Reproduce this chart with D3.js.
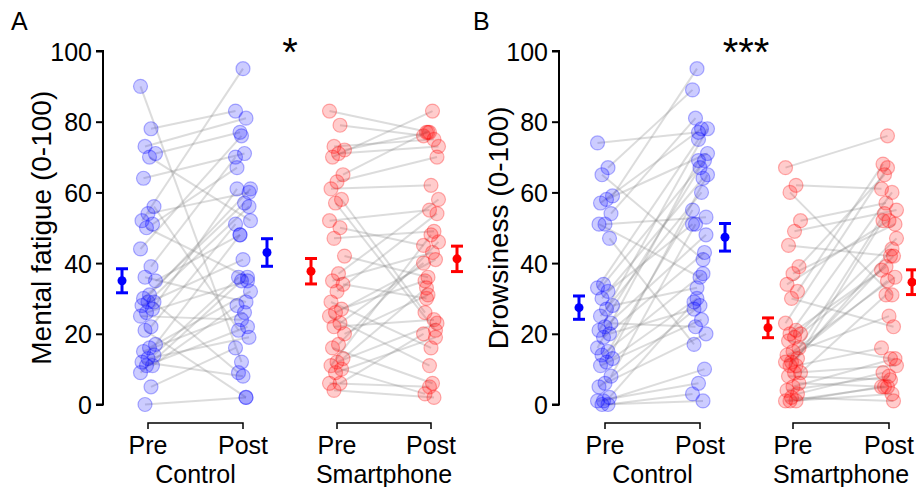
<!DOCTYPE html>
<html>
<head>
<meta charset="utf-8">
<script src="https://cdn.jsdelivr.net/npm/d3@7"></script>
<style>
  body { margin: 0; background: #fff; }
  text { font-family: 'Liberation Sans', Arial, sans-serif; }
</style>
</head>
<body>
<div id="graf"></div>
<script>
// Datos (pares pre/post por sujeto)
fatigaControlPre  = [90, 78, 73, 71, 70, 64, 56, 54, 52, 51, 50, 44, 39, 36, 35, 31, 30, 29, 29, 28, 27, 26, 25, 22, 21, 17, 16, 15, 14, 13, 12, 11, 11, 9, 5, 0]
fatigaControlPost = [12, 83, 81, 77, 52, 71, 21, 60, 95, 67, 36, 76, 70, 29, 48, 61, 57, 9, 56, 41, 61, 35, 24, 51, 2, 48, 32, 26, 36, 19, 8, 28, 22, 35, 16, 2]
fatigaSmartPre    = [83, 79, 73, 72, 71, 70, 65, 63, 61, 58, 57, 52, 50, 47, 42, 37, 35, 34, 32, 29, 27, 26, 25, 23, 22, 20, 17, 16, 13, 12, 11, 10, 9, 6, 6, 4]
fatigaSmartPost   = [77, 76, 75, 77, 73, 83, 77, 70, 62, 26, 21, 55, 45, 49, 36, 58, 43, 30, 54, 16, 35, 41, 11, 40, 24, 31, 46, 6, 33, 23, 48, 3, 19, 5, 20, 2]

suenoControlPre   = [74, 67, 65, 59, 58, 57, 54, 51, 51, 47, 34, 33, 32, 30, 28, 27, 25, 23, 22, 21, 20, 19, 16, 15, 14, 13, 12, 11, 8, 6, 5, 2, 1, 1, 0, 0]
suenoControlPost  = [77, 89, 41, 95, 71, 78, 81, 53, 36, 17, 69, 75, 51, 64, 33, 78, 60, 22, 48, 67, 27, 43, 69, 55, 37, 30, 65, 24, 51, 20, 28, 29, 10, 6, 3, 1]
suenoSmartPre     = [67, 62, 60, 52, 49, 45, 39, 37, 34, 32, 30, 23, 21, 20, 20, 19, 18, 16, 15, 14, 13, 12, 12, 11, 11, 9, 9, 8, 6, 5, 4, 3, 2, 1, 1, 1]
suenoSmartPost    = [76, 61, 31, 57, 55, 42, 65, 51, 52, 68, 22, 67, 38, 60, 39, 47, 13, 54, 36, 25, 52, 42, 35, 16, 44, 31, 11, 7, 5, 13, 8, 9, 1, 5, 5, 3]

// medias y error estándar: [controlPre, controlPost, smartPre, smartPost]
fatigaMedias = [35.0, 43.0, 37.7, 41.2]
fatigaSem    = [3.4, 3.9, 3.6, 3.6]
suenoMedias  = [27.4, 47.3, 21.7, 34.6]
suenoSem     = [3.3, 3.9, 2.8, 3.5]

yTicks      = [0, 20, 40, 60, 80, 100]
momentos    = ['Pre', 'Post']
grupos      = ['Control', 'Smartphone']
etiquetasY  = ['Mental fatigue (0-100)', 'Drowsiness (0-100)']
letras      = ['A', 'B']
estrellas   = ['*', '***']

ancho_total = 916
alto_total  = 487
fuente = 25

svg = d3.select('#graf').append('svg')
        .attr('width', ancho_total)
        .attr('height', alto_total)

y = d3.scaleLinear().domain([0, 100]).range([404.5, 51])

azul = '#0000ff'
rojo = '#ff0000'

paneles = [
  { ejeX: 103, cols: [148, 243, 337, 431], errX: [122, 267, 311, 457], labelX: 51,
    series: [[fatigaControlPre, fatigaControlPost], [fatigaSmartPre, fatigaSmartPost]],
    medias: fatigaMedias, sem: fatigaSem, letraX: 11, estrellaX: 290 },
  { ejeX: 559, cols: [605, 700, 793, 889], errX: [579, 725, 768, 912], labelX: 508,
    series: [[suenoControlPre, suenoControlPost], [suenoSmartPre, suenoSmartPost]],
    medias: suenoMedias, sem: suenoSem, letraX: 473, estrellaX: 746 }
]

// desplazamiento horizontal fijo (jitter determinista)
function jit(i, k) {
  return ((i * 7 + k * 3) % 11 - 5) * 1.5
}

paneles.forEach((p, ip) => {
  g = svg.append('g')

  // eje y
  eje = d3.axisLeft(y).tickValues(yTicks).tickSize(7).tickPadding(4)
  ga = g.append('g')
        .attr('transform', `translate(${p.ejeX}, 0)`)
        .call(eje)
  ga.select('.domain').attr('d', `M-7,${y(100)}H0V${y(0)}H-7`).attr('stroke', '#000').attr('stroke-width', 2)
  ga.selectAll('.tick line').attr('stroke', '#000').attr('stroke-width', 2)
  ga.selectAll('.tick text')
    .attr('font-size', `${fuente}px`)
    .attr('font-family', "'Liberation Sans', Arial, sans-serif")
    .attr('fill', '#000')
    .attr('dy', '0.36em')

  g.append('text')
    .attr('transform', `translate(${p.labelX}, ${(y(0) + y(100)) / 2}) rotate(-90)`)
    .attr('text-anchor', 'middle')
    .attr('font-size', '28px')
    .text(etiquetasY[ip])

  g.append('text')
    .attr('x', p.letraX)
    .attr('y', 30)
    .attr('font-size', `${fuente}px`)
    .text(letras[ip])

  g.append('text')
    .attr('x', p.estrellaX)
    .attr('y', 66)
    .attr('text-anchor', 'middle')
    .attr('font-size', '40px')
    .text(estrellas[ip])

  p.series.forEach((s, ig) => {
    xPre  = p.cols[ig * 2]
    xPost = p.cols[ig * 2 + 1]
    color = ig == 0 ? azul : rojo
    datos = s[0].map((v, i) => ({ pre: v, post: s[1][i], i: i }))

    g.selectAll(null)
      .data(datos)
      .enter().append('line')
        .attr('x1', d => xPre + jit(d.i, 0))
        .attr('y1', d => y(d.pre))
        .attr('x2', d => xPost + jit(d.i, 5))
        .attr('y2', d => y(d.post))
        .attr('stroke', '#808080')
        .attr('stroke-opacity', 0.28)
        .attr('stroke-width', 2)

    ;[['pre', xPre, 0], ['post', xPost, 5]].forEach(([k, cx, off]) => {
      g.selectAll(null)
        .data(datos)
        .enter().append('circle')
          .attr('cx', d => cx + jit(d.i, off))
          .attr('cy', d => y(d[k]))
          .attr('r', 7)
          .attr('fill', color)
          .attr('fill-opacity', 0.2)
          .attr('stroke', color)
          .attr('stroke-opacity', 0.3)
          .attr('stroke-width', 1.2)
    })

    // barras de error
    ;[0, 1].forEach(t => {
      j = ig * 2 + t
      ex = p.errX[j]
      m = p.medias[j]
      e = p.sem[j]
      eg = g.append('g').attr('stroke', color).attr('stroke-width', 3)
      eg.append('line').attr('x1', ex).attr('x2', ex).attr('y1', y(m - e)).attr('y2', y(m + e))
      eg.append('line').attr('x1', ex - 6).attr('x2', ex + 6).attr('y1', y(m - e)).attr('y2', y(m - e))
      eg.append('line').attr('x1', ex - 6).attr('x2', ex + 6).attr('y1', y(m + e)).attr('y2', y(m + e))
      g.append('circle').attr('cx', ex).attr('cy', y(m)).attr('r', 4.5).attr('fill', color)
    })

    // corchete inferior y etiquetas
    g.append('path')
      .attr('d', `M${xPre},429V423H${xPost}V429`)
      .attr('fill', 'none')
      .attr('stroke', '#000')
      .attr('stroke-width', 1.5)

    momentos.forEach((mo, t) => {
      g.append('text')
        .attr('x', t == 0 ? xPre : xPost)
        .attr('y', 454)
        .attr('text-anchor', 'middle')
        .attr('font-size', `${fuente}px`)
        .text(mo)
    })

    g.append('text')
      .attr('x', (xPre + xPost) / 2)
      .attr('y', 483)
      .attr('text-anchor', 'middle')
      .attr('font-size', `${fuente}px`)
      .text(grupos[ig])
  })
})
</script>
</body>
</html>
